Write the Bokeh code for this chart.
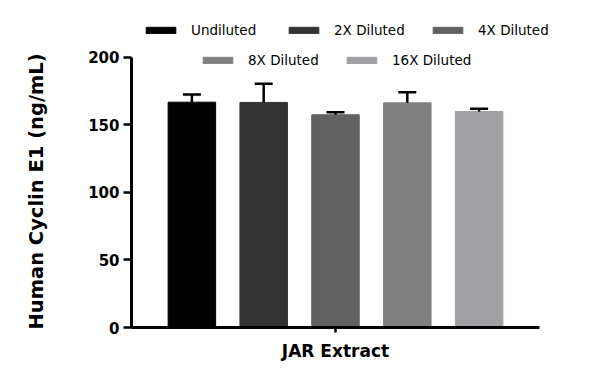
from bokeh.plotting import figure
from bokeh.models import (ColumnDataSource, Range1d, FixedTicker, LinearAxis,
                          Legend, LegendItem, Title)
from bokeh.embed import file_html
from bokeh.resources import INLINE

# ---- data ----
category = "JAR Extract"
series = ["Undiluted", "2X Diluted", "4X Diluted", "8X Diluted", "16X Diluted"]
means = [166.6, 166.4, 157.3, 166.1, 159.7]
errors = [5.7, 13.8, 1.9, 7.9, 2.0]
colors = ["#000000", "#333333", "#626262", "#808080", "#a0a0a4"]
y_ticks = [0, 50, 100, 150, 200]
y_axis_max = 200
y_label = "Human Cyclin E1 (ng/mL)"

FONT = "DejaVu Sans"

FRAME_H = 315
AXIS_PX_Y = 270.5   # pixel length of the 0..200 axis
FRAME_W = 453
AXIS_PX_X = 408     # pixel length of the category axis (0..1)
y_end = y_axis_max * FRAME_H / AXIS_PX_Y
x_end = FRAME_W / AXIS_PX_X

p = figure(frame_width=FRAME_W, frame_height=FRAME_H,
           min_border_left=131, min_border_right=0,
           min_border_top=12, min_border_bottom=41,
           x_range=Range1d(0, x_end), y_range=Range1d(0, y_end),
           output_backend="svg", toolbar_location=None,
           background_fill_color="white", border_fill_color="white")
p.outline_line_color = None
p.xgrid.visible = False
p.ygrid.visible = False

center = 0.5
step = 0.176
bar_w = 0.1164
legend_locs = [(11, 289), (154, 289), (298, 289), (68, 259), (212, 259)]

for i, (name, m, e, c) in enumerate(zip(series, means, errors, colors)):
    xpos = center + (i - 2) * step
    src = ColumnDataSource(dict(x=[xpos], top=[m], upper=[m + e]))
    r = p.vbar(x="x", top="top", width=bar_w, bottom=0, source=src,
               fill_color=c, line_color=c, line_width=1)
    p.segment(x0="x", y0="top", x1="x", y1="upper", source=src,
              line_color="black", line_width=2.5)
    p.scatter(x="x", y="upper", marker="dash", size=18, source=src,
              line_color="black", line_width=2.5)
    leg = Legend(items=[LegendItem(label=name, renderers=[r])],
                 location=legend_locs[i], orientation="horizontal",
                 padding=0, margin=0, spacing=0,
                 glyph_width=37, glyph_height=8, label_standoff=12,
                 label_height=16,
                 label_text_font=FONT, label_text_font_size="13.5px",
                 label_text_color="black",
                 border_line_alpha=0, background_fill_alpha=0)
    p.add_layout(leg)

# y axis
ya = p.yaxis[0]
ya.ticker = FixedTicker(ticks=y_ticks)
ya.bounds = (0, y_axis_max)
ya.minor_tick_line_color = None
ya.axis_line_width = 3
ya.major_tick_line_width = 2.5
ya.major_tick_out = 8
ya.major_tick_in = 0
ya.major_label_standoff = 4
ya.major_label_text_font = FONT
ya.major_label_text_font_style = "bold"
ya.major_label_text_font_size = "15px"
ya.major_label_text_color = "black"

# invisible spacer axis (white tick on white) between tick labels and title
spacer = LinearAxis(ticker=FixedTicker(ticks=[0]), axis_line_color=None,
                    major_tick_line_color="white", major_tick_line_width=1,
                    minor_tick_line_color=None,
                    major_tick_out=14, major_tick_in=0, minor_tick_out=0,
                    major_label_standoff=0,
                    major_label_overrides={0: ""},
                    major_label_text_color="white",
                    major_label_text_font_size="1px")
p.add_layout(spacer, "left")

# y axis title, aligned to the bottom of the axis
p.add_layout(Title(text=y_label, align="left", vertical_align="middle",
                   offset=-2, standoff=45,
                   text_font=FONT, text_font_style="bold",
                   text_font_size="19.5px", text_color="black"), "left")

# x axis
xa = p.xaxis[0]
xa.ticker = FixedTicker(ticks=[center])
xa.major_label_overrides = {center: category}
xa.bounds = (0, 1)
xa.axis_line_width = 3
xa.major_tick_line_width = 2.5
xa.major_tick_out = 5
xa.major_tick_in = 0
xa.minor_tick_line_color = None
xa.major_label_standoff = 8
xa.major_label_text_font = FONT
xa.major_label_text_font_style = "bold"
xa.major_label_text_font_size = "17px"
xa.major_label_text_color = "black"

open("out.html", "w").write(file_html(p, INLINE))
